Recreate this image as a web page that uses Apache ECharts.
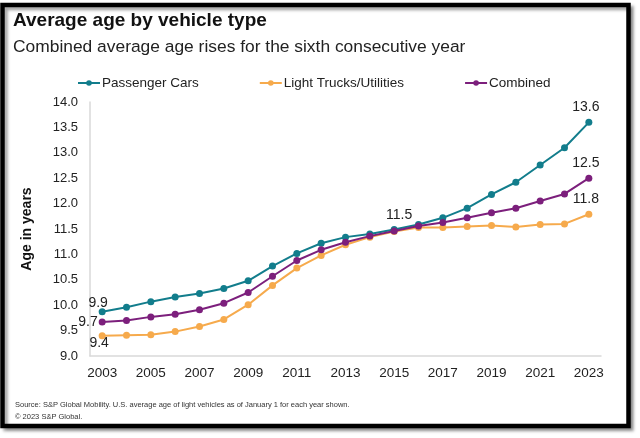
<!DOCTYPE html>
<html>
<head>
<meta charset="utf-8">
<script src="https://cdn.jsdelivr.net/npm/echarts@6/dist/echarts.min.js"></script>
<style>
html,body{margin:0;padding:0;background:#fff;}
#chart{width:640px;height:438px;}
</style>
</head>
<body>
<div id="chart"></div>
<script>
const years = ['2003','2004','2005','2006','2007','2008','2009','2010','2011','2012','2013','2014','2015','2016','2017','2018','2019','2020','2021','2022','2023'];
const passengerCars = [9.87,9.96,10.07,10.16,10.23,10.33,10.48,10.77,11.02,11.22,11.34,11.40,11.49,11.59,11.72,11.91,12.18,12.42,12.76,13.10,13.60];
const lightTrucks   = [9.40,9.41,9.42,9.48,9.58,9.72,10.01,10.39,10.73,10.98,11.19,11.34,11.45,11.53,11.53,11.55,11.57,11.54,11.59,11.60,11.79];
const combined      = [9.67,9.70,9.77,9.82,9.91,10.04,10.25,10.57,10.88,11.09,11.24,11.36,11.46,11.56,11.63,11.72,11.82,11.91,12.05,12.19,12.50];
const yTicks = ['9.0','9.5','10.0','10.5','11.0','11.5','12.0','12.5','13.0','13.5','14.0'];
const seriesNames = ['Passenger Cars','Light Trucks/Utilities','Combined'];
// which points carry a value label, and where
const labelled = [
  {2003: 'top', 2015: 'top', 2023: 'top'},
  {2003: 'bottom', 2023: 'top'},
  {2003: 'left', 2023: 'top'}
];
const colors = ['#127d8c','#f6aa4c','#7c1f7c'];
const FONT = 'Liberation Sans, Arial, sans-serif';

function build(values, idx){
  return values.map((v,i)=>{
    const pos = labelled[idx][years[i]];
    if(!pos) return v;
    const lab = {show:true, position:pos, formatter:(p)=>Number(p.value).toFixed(1),
      fontSize:14, color:'#222', fontFamily:FONT, distance:6};
    if(idx===0 && i===0){ lab.offset=[-4,7.5]; }
    if(idx===2 && i===0){ lab.distance=1; }
    if(idx===1 && i===0){ lab.distance=3; lab.offset=[-3,-6.5]; }
    if(i===years.length-1){ lab.offset=[-3,1.5]; }
    if(idx===0 && i===12){ lab.offset=[5,2.5]; }
    return {value:v, label:lab};
  });
}

const chart = echarts.init(document.getElementById('chart'), null, {renderer:'canvas'});
chart.setOption({
  backgroundColor:'#ffffff',
  animation:false,
  graphic:[{
    type:'rect', z:-10, silent:true,
    shape:{x:2.5,y:5,width:626,height:421},
    style:{fill:'#ffffff', stroke:'#000', lineWidth:4.5,
      shadowColor:'rgba(0,0,0,0.35)', shadowBlur:3, shadowOffsetX:3, shadowOffsetY:3}
  }],
  title:[
    {text:'Average age by vehicle type', left:8, top:6,
      textStyle:{fontFamily:FONT, fontSize:19, fontWeight:'bold', color:'#111'}},
    {text:'Combined average age rises for the sixth consecutive year', left:8, top:34,
      textStyle:{fontFamily:FONT, fontSize:17.4, fontWeight:'normal', color:'#222'}},
    {text:'Source: S&P Global Mobility. U.S. average age of light vehicles as of January 1 for each year shown.', left:10, top:396,
      textStyle:{fontFamily:FONT, fontSize:7.5, fontWeight:'normal', color:'#333'}},
    {text:'© 2023 S&P Global.', left:10, top:408,
      textStyle:{fontFamily:FONT, fontSize:7.5, fontWeight:'normal', color:'#333'}}
  ],
  legend:{
    data:seriesNames, left:72, top:71, itemGap:60, itemWidth:22, itemHeight:7,
    textStyle:{fontFamily:FONT, fontSize:13.5, color:'#222', padding:[0,0,0,-3]}
  },
  grid:{left:90, right:39, top:102, bottom:82, containLabel:false},
  xAxis:{
    type:'category', data:years, boundaryGap:true,
    axisLine:{lineStyle:{color:'#d9d9d9', width:1.5}},
    axisTick:{show:false},
    axisLabel:{interval:1, margin:10, fontFamily:FONT, fontSize:13.5, color:'#222'}
  },
  yAxis:{
    type:'value', min:9, max:14, interval:0.5,
    name:'Age in years', nameLocation:'middle', nameGap:56,
    nameTextStyle:{fontFamily:FONT, fontSize:14, fontWeight:'bold', color:'#111'},
    axisLine:{show:true, lineStyle:{color:'#d9d9d9', width:1.5}},
    axisTick:{show:false},
    splitLine:{show:false},
    axisLabel:{margin:12, fontFamily:FONT, fontSize:13, color:'#222',
      formatter:(v)=>{const s=Number(v).toFixed(1); return yTicks.indexOf(s)>=0?s:'';}}
  },
  series:[passengerCars, lightTrucks, combined].map((vals,idx)=>({
    name:seriesNames[idx], type:'line', data:build(vals,idx),
    symbol:'circle', symbolSize:7, showSymbol:true,
    lineStyle:{width:2, color:colors[idx]},
    itemStyle:{color:colors[idx]},
    z: idx===1?2:(idx===0?3:4)
  }))
});
</script>
</body>
</html>
